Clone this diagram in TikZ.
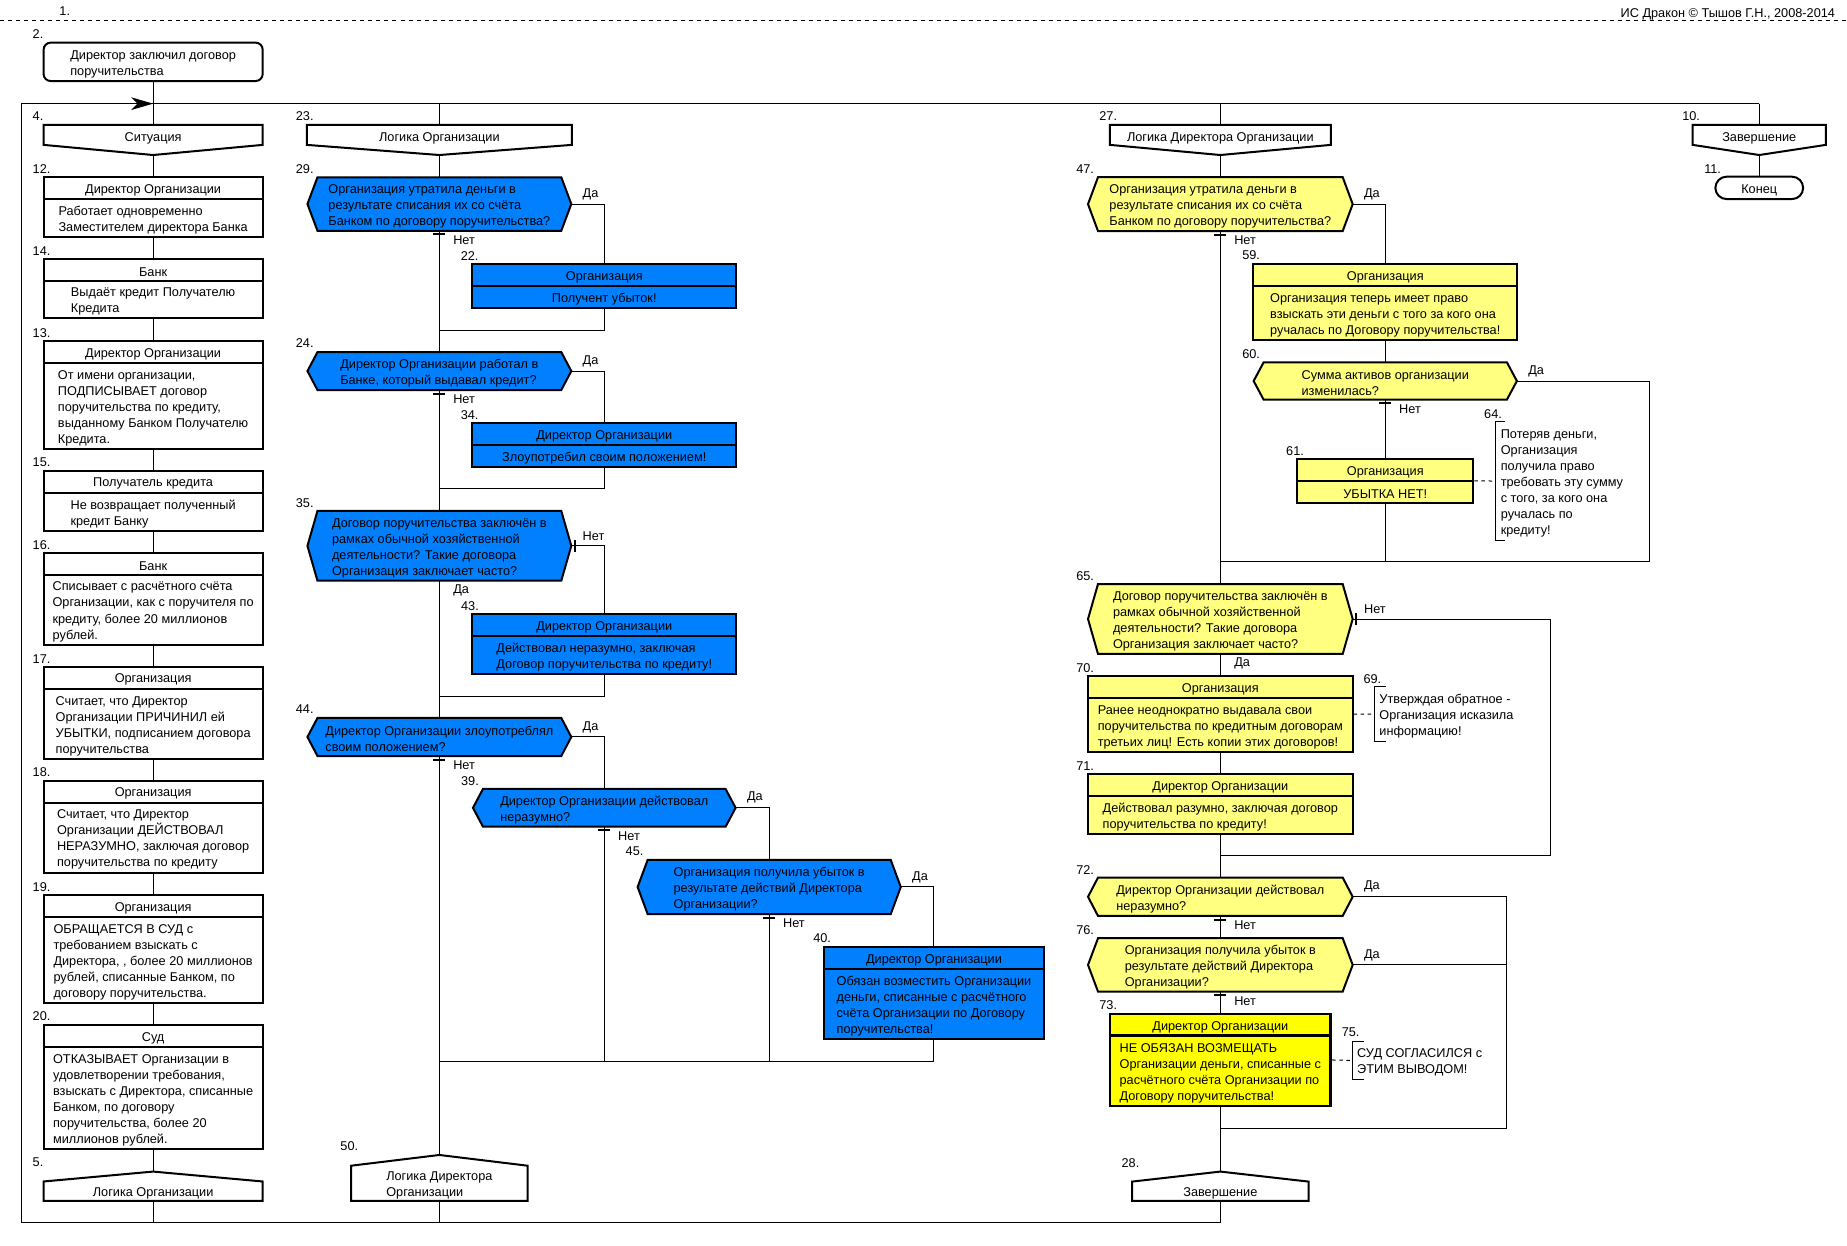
\documentclass[tikz,border=0pt]{standalone}
\usepackage{fontspec}
\setmainfont{Liberation Sans}
\usetikzlibrary{calc}
\definecolor{dblue}{RGB}{0,128,255}
\definecolor{dyel}{RGB}{255,255,128}
\definecolor{dyelb}{RGB}{255,255,0}
\tikzset{
  every node/.style={font=\fontsize{10.8}{13.6}\selectfont, inner sep=0pt, text=black},
  conn/.style={line width=0.85pt},
  bord/.style={line width=1.7pt},
  ghost/.style={draw=none, fill=none, inner sep=0pt, outer sep=0pt},
  num/.style={anchor=west},
  lbl/.style={anchor=west},
  txt/.style={yshift=-1.8pt},
  body/.style={align=left, yshift=-1.8pt},
  tickmark/.style={line width=1.7pt},
  cmt/.style={line width=0.85pt, dash pattern=on 3pt off 3pt},
  cmtbr/.style={line width=0.85pt},
}
% action box: name, cx, halfwidth, top, divider, bottom, style, header, body
\newcommand\dkact[9]{%
  \node[draw, bord, #7, minimum width={2*#3}, minimum height={#6-#4}] (#1) at (#2,{(#4+#6)/2}) {};
  \draw[bord, #7] (#2-#3,#5) -- (#2+#3,#5);
  \node[txt] (#1h) at (#2,{(#4+#5)/2}) {#8};
  \node[body] (#1b) at (#2,{(#5+#6)/2}) {#9};
}
% question: name, cx, cy, halfwidth, halfheight, style, text
\newcommand\dkq[7]{%
  \node[ghost, minimum width={2*#4}, minimum height={2*#5}] (#1) at (#2,#3) {};
  \draw[bord, #6] (#2-#4,#3) -- (#2-#4+8.5,#3-#5) -- (#2+#4-8.5,#3-#5) -- (#2+#4,#3)
     -- (#2+#4-8.5,#3+#5) -- (#2-#4+8.5,#3+#5) -- cycle;
  \node[body] (#1t) at (#2,#3) {#7};
}
% branch head: name, cx, halfwidth, text
\newcommand\dkhead[4]{%
  \node[ghost, minimum width={2*#3}, minimum height=25.6pt] (#1) at (#2,118.8) {};
  \draw[bord, fill=white] (#2-#3,106) -- (#2+#3,106) -- (#2+#3,123) -- (#2,131.6) -- (#2-#3,123) -- cycle;
  \node[txt] (#1t) at (#2,115.5) {#4};
}
% branch end: name, cx, halfwidth, top point, side, text
\newcommand\dkend[6]{%
  \node[ghost, minimum width={2*#3}, minimum height={1019.5-#4}] (#1) at (#2,{(#4+1019.5)/2}) {};
  \draw[bord, fill=white] (#2,#4) -- (#2+#3,#5) -- (#2+#3,1019.5) -- (#2-#3,1019.5) -- (#2-#3,#5) -- cycle;
  \node[body] (#1t) at (#2,{(#5+1019.5)/2}) {#6};
}
\newcommand\dkYesR[1]{\node[lbl] at ([xshift=9.5pt,yshift=8.5pt]#1.east) {Да};}
\newcommand\dkNoB[1]{\node[lbl] at ([xshift=11.6pt,yshift=-8pt]#1.south) {Нет};
  \draw[tickmark] ([xshift=-5pt,yshift=-3.1pt]#1.south) -- ([xshift=5pt,yshift=-3.1pt]#1.south);}
\newcommand\dkNoR[1]{\node[lbl] at ([xshift=9.5pt,yshift=8.5pt]#1.east) {Нет};
  \draw[tickmark] ([xshift=3pt,yshift=5pt]#1.east) -- ([xshift=3pt,yshift=-5pt]#1.east);}
\newcommand\dkYesB[1]{\node[lbl] at ([xshift=11.6pt,yshift=-8pt]#1.south) {Да};}
\begin{document}
\begin{tikzpicture}[x=1pt,y=-1pt]
\fill[white] (0,0) rectangle (1568,1057);
\useasboundingbox (0,0) rectangle (1568,1057);

% header
\node[num] (n1) at (50.3,9.6) {1.};
\node[anchor=east, txt] (title) at (1558,10.5) {ИС Дракон © Тышов Г.Н., 2008-2014};
\coordinate (dl) at (0,17.5);
\coordinate (dr) at (1568,17.5);
\draw[conn, dash pattern=on 3.4pt off 3.4pt] (dl) -- (dr);

% frame coordinates
\coordinate (tl) at (18,88);
\coordinate (j1) at (130,88);
\coordinate (j2) at (373,88);
\coordinate (j3) at (1036,88);
\coordinate (tr) at (1493.5,88);
\coordinate (bl) at (18,1038);
\coordinate (k1) at (130,1038);
\coordinate (k2) at (373,1038);
\coordinate (k3) at (1036,1038);
\coordinate (m22) at (373,280.4);
\coordinate (m34) at (373,415.1);
\coordinate (m43) at (373,591.1);
\coordinate (m40) at (373,901);
\coordinate (m39) at (513,901);
\coordinate (m45) at (653,901);
\coordinate (m47) at (1036,476.8);
\coordinate (m61) at (1176,476.8);
\coordinate (m60r) at (1400,476.8);
\coordinate (m65) at (1036,726.4);
\coordinate (m65r) at (1316,726.4);
\coordinate (m72) at (1036,957.6);
\coordinate (m72r) at (1279,957.6);

% ---------- connectors first (behind shapes) ----------
\draw[conn] (tr) -- (tl) -- (bl) -- (k3);
\draw[conn] (130,60) -- (j1);
\draw[conn] (j1) -- (k1);
\draw[conn] (j2) -- (k2);
\draw[conn] (j3) -- (k3);
\draw[conn] (tr) -- (1493.5,150);
\fill (j1) -- (111.4,82.6) -- (116.8,88) -- (111.4,93.4) -- cycle;

% ---------- shapes ----------
% start
\node[draw, bord, fill=white, rounded corners=6pt, minimum width=186pt, minimum height=32.6pt] (b2) at (130,52.5) {};
\node[body] (b2t) at (b2.center) {Директор заключил договор\\поручительства};
\node[num] at (27.6,29.2) {2.};

% branch heads
\dkhead{h4}{130}{93}{Ситуация}
\dkhead{h23}{373}{112.5}{Логика Организации}
\dkhead{h27}{1036}{93.75}{Логика Директора Организации}
\dkhead{h10}{1493.5}{56.5}{Завершение}
\node[num] at (27.6,99) {4.};
\node[num] at (251,99) {23.};
\node[num] at (933.1,98.5) {27.};
\node[num] at (1428,99) {10.};

% column 4
\node[draw, bord, fill=white, rounded corners=9.5pt, minimum width=74.5pt, minimum height=19pt] (t11) at (1493.5,159.5) {};
\node[txt] (t11t) at (t11.center) {Конец};
\node[num] at (1446.6,143.7) {11.};

% column 1
\dkact{b12}{130}{93}{150}{169}{201}{fill=white}{Директор Организации}{Работает одновременно\\Заместителем директора Банка}
\dkact{b14}{130}{93}{220}{238.3}{270.2}{fill=white}{Банк}{Выдаёт кредит Получателю\\Кредита}
\dkact{b13}{130}{93}{289.5}{307.9}{381.2}{fill=white}{Директор Организации}{От имени организации,\\ПОДПИСЫВАЕТ договор\\поручительства по кредиту,\\выданному Банком Получателю\\Кредита.}
\dkact{b15}{130}{93}{399.6}{418.2}{450.8}{fill=white}{Получатель кредита}{Не возвращает полученный\\кредит Банку}
\dkact{b16}{130}{93}{469.2}{487.8}{547.5}{fill=white}{Банк}{Списывает с расчётного счёта\\Организации, как с поручителя по\\кредиту, более 20 миллионов\\рублей.}
\dkact{b17}{130}{93}{566}{584.6}{644.3}{fill=white}{Организация}{Считает, что Директор\\Организации ПРИЧИНИЛ ей\\УБЫТКИ, подписанием договора\\поручительства}
\dkact{b18}{130}{93}{662.7}{681.4}{740.8}{fill=white}{Организация}{Считает, что Директор\\Организации ДЕЙСТВОВАЛ\\НЕРАЗУМНО, заключая договор\\поручительства по кредиту}
\dkact{b19}{130}{93}{759.8}{778.4}{851.5}{fill=white}{Организация}{ОБРАЩАЕТСЯ В СУД с\\требованием взыскать с\\Директора, , более 20 миллионов\\рублей, списанные Банком, по\\договору поручительства.}
\dkact{b20}{130}{93}{870}{888.8}{975.4}{fill=white}{Суд}{ОТКАЗЫВАЕТ Организации в\\удовлетворении требования,\\взыскать с Директора, списанные\\Банком, по договору\\поручительства, более 20\\миллионов рублей.}
\dkend{e5}{130}{93}{994.6}{1003}{Логика Организации}
\node[num] at (27.6,143.7) {12.};
\node[num] at (27.6,212.8) {14.};
\node[num] at (27.6,282.7) {13.};
\node[num] at (27.6,392.5) {15.};
\node[num] at (27.6,462.6) {16.};
\node[num] at (27.6,559.2) {17.};
\node[num] at (27.6,655.9) {18.};
\node[num] at (27.6,752.7) {19.};
\node[num] at (27.6,863) {20.};
\node[num] at (27.6,986.7) {5.};

% column 2 shapes
\dkq{q29}{373}{173.2}{112}{22.7}{fill=dblue}{Организация утратила деньги в\\результате списания их со счёта\\Банком по договору поручительства?}
\dkq{q24}{373}{315}{112}{16.1}{fill=dblue}{Директор Организации работал в\\Банке, который выдавал кредит?}
\dkq{q35}{373}{463.4}{112}{29.6}{fill=dblue}{Договор поручительства заключён в\\рамках обычной хозяйственной\\деятельности? Такие договора\\Организация заключает часто?}
\dkq{q44}{373}{625.65}{112}{16.15}{fill=dblue}{Директор Организации злоупотреблял\\своим положением?}
\dkend{e50}{373}{74.85}{980.5}{989.6}{Логика Директора\\Организации}
% branch connectors in column 2
\draw[conn] (q29.east) -| (513,280.4) -- (m22);
\draw[conn] (q24.east) -| (513,415.1) -- (m34);
\draw[conn] (q35.east) -| (513,591.1) -- (m43);
\draw[conn] (q44.east) -| (m39);
\draw[conn] (513,685.8) -| (m45);
\draw[conn] (653,753) -| (792.9,901) -- (m40);
\dkact{b22}{513}{112.2}{224.1}{242.8}{261.5}{fill=dblue}{Организация}{Получент убыток!}
\dkact{b34}{513}{112.2}{359.4}{377.8}{396.2}{fill=dblue}{Директор Организации}{Злоупотребил своим положением!}
\dkact{b43}{513}{112.2}{521.2}{539.9}{572.4}{fill=dblue}{Директор Организации}{Действовал неразумно, заключая\\Договор поручительства по кредиту!}
\dkq{q39}{513}{685.8}{111.5}{16}{fill=dblue}{Директор Организации действовал\\неразумно?}
\dkq{q45}{653}{753}{111.7}{22.95}{fill=dblue}{Организация получила убыток в\\результате действий Директора\\Организации?}
\dkact{b40}{792.9}{93.65}{804.2}{822.9}{882}{fill=dblue}{Директор Организации}{Обязан возместить Организации\\деньги, списанные с расчётного\\счёта Организации по Договору\\поручительства!}

\dkYesR{q29}\dkNoB{q29}
\dkYesR{q24}\dkNoB{q24}
\dkNoR{q35}\dkYesB{q35}
\dkYesR{q44}\dkNoB{q44}
\dkYesR{q39}\dkNoB{q39}
\dkYesR{q45}\dkNoB{q45}

\node[num] at (251,143.7) {29.};
\node[num] at (391,217.3) {22.};
\node[num] at (251,291.5) {24.};
\node[num] at (391,352.3) {34.};
\node[num] at (251,426.7) {35.};
\node[num] at (391.3,514.2) {43.};
\node[num] at (251,602.1) {44.};
\node[num] at (391.3,662.7) {39.};
\node[num] at (531,722.7) {45.};
\node[num] at (690.2,796.8) {40.};
\node[num] at (288.8,973.4) {50.};

% column 3 branch connectors
\draw[conn] (1148,173.3) -| (m61);
\draw[conn] (1288,323.45) -| (m60r) -- (m47);
\draw[conn] (1148,525.5) -| (m65r) -- (m65);
\draw[conn] (1148,761.3) -| (m72r) -- (m72);
\draw[conn] (1148,819.15) -- (1279,819.15);
% column 3 shapes
\dkq{q47}{1036}{173.3}{112.35}{22.9}{fill=dyel}{Организация утратила деньги в\\результате списания их со счёта\\Банком по договору поручительства?}
\dkact{b59}{1176}{112.25}{224.1}{242.5}{288.6}{fill=dyel}{Организация}{Организация теперь имеет право\\взыскать эти деньги с того за кого она\\ручалась по Договору поручительства!}
\dkq{q60}{1176}{323.45}{111.75}{15.85}{fill=dyel}{Сумма активов организации\\изменилась?}
\dkact{b61}{1176}{74.8}{389.6}{408.3}{426.7}{fill=dyel}{Организация}{УБЫТКА НЕТ!}
\dkq{q65}{1036}{525.5}{112.35}{29.7}{fill=dyel}{Договор поручительства заключён в\\рамках обычной хозяйственной\\деятельности? Такие договора\\Организация заключает часто?}
\dkact{b70}{1036}{112.2}{574.1}{592.5}{638.6}{fill=dyel}{Организация}{Ранее неоднократно выдавала свои\\поручительства по кредитным договорам\\третьих лиц! Есть копии этих договоров!}
\dkact{b71}{1036}{112.2}{657}{675.7}{708}{fill=dyel}{Директор Организации}{Действовал разумно, заключая договор\\поручительства по кредиту!}
\dkq{q72}{1036}{761.3}{112.35}{16.3}{fill=dyel}{Директор Организации действовал\\неразумно?}
\dkq{q76}{1036}{819.15}{112.35}{22.65}{fill=dyel}{Организация получила убыток в\\результате действий Директора\\Организации?}
\dkact{b73}{1036}{93.75}{860.8}{879.2}{938.9}{fill=dyelb,line width=2.4pt}{Директор Организации}{НЕ ОБЯЗАН ВОЗМЕЩАТЬ\\Организации деньги, списанные с\\расчётного счёта Организации по\\Договору поручительства!}
\dkend{e28}{1036}{74.9}{994.6}{1003.1}{Завершение}

\dkYesR{q47}\dkNoB{q47}
\dkYesR{q60}\dkNoB{q60}
\dkNoR{q65}\dkYesB{q65}
\dkYesR{q72}\dkNoB{q72}
\dkYesR{q76}\dkNoB{q76}

% comments
\node[anchor=west, align=left, minimum height=100pt, inner xsep=4.4pt] (k64) at (1269.5,408.4) {};
\node[body, anchor=west] (k64t) at ([xshift=4.4pt]k64.west) {Потеряв деньги,\\Организация\\получила право\\требовать эту сумму\\с того, за кого она\\ручалась по\\кредиту!};
\draw[cmtbr] ([xshift=8.5pt]k64.north west) -- (k64.north west) -- (k64.south west) -- ([xshift=8.5pt]k64.south west);
\draw[cmt] (b61.east) -- (k64.west);
\node[anchor=west, minimum height=46pt] (k69) at (1167.2,606.3) {};
\node[body, anchor=west] (k69t) at ([xshift=3.7pt]k69.west) {Утверждая обратное -\\Организация исказила\\информацию!};
\draw[cmtbr] ([xshift=9pt]k69.north west) -- (k69.north west) -- (k69.south west) -- ([xshift=9pt]k69.south west);
\draw[cmt] (b70.east) -- (k69.west);
\node[anchor=west, minimum height=32pt] (k75) at (1148.3,900.2) {};
\node[body, anchor=west] (k75t) at ([xshift=3.7pt]k75.west) {СУД СОГЛАСИЛСЯ с\\ЭТИМ ВЫВОДОМ!};
\draw[cmtbr] ([xshift=9.5pt]k75.north west) -- (k75.north west) -- (k75.south west) -- ([xshift=9.5pt]k75.south west);
\draw[cmt] (b73.east) -- (k75.west);

\node[num] at (913.5,143.5) {47.};
\node[num] at (1054.4,216.8) {59.};
\node[num] at (1054.4,300.5) {60.};
\node[num] at (1091.7,382.6) {61.};
\node[num] at (1259.8,351.2) {64.};
\node[num] at (913.5,488.7) {65.};
\node[num] at (913.5,566.8) {70.};
\node[num] at (1157.4,576.4) {69.};
\node[num] at (913.5,650.3) {71.};
\node[num] at (913.5,738.5) {72.};
\node[num] at (913.5,789.5) {76.};
\node[num] at (933.1,853.7) {73.};
\node[num] at (1138.9,876.3) {75.};
\node[num] at (952,987) {28.};
\end{tikzpicture}
\end{document}
